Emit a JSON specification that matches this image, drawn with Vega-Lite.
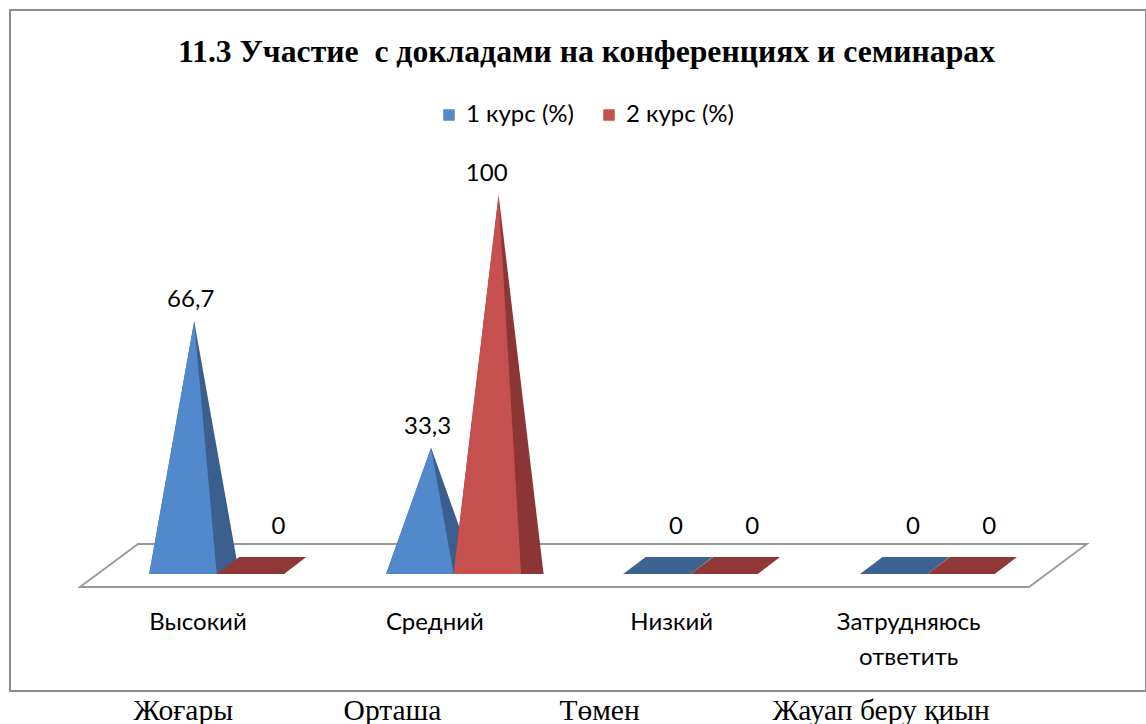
{
  "$schema": "https://vega.github.io/schema/vega-lite/v6.json",
  "width": 1136,
  "height": 681,
  "autosize": {"type": "none"},
  "padding": {"left": 10, "top": 10, "right": 0, "bottom": 33},
  "background": "white",
  "config": {
    "view": {"stroke": "#8c8c8c", "strokeWidth": 2},
    "locale": {"number": {"decimal": ",", "thousands": "\u00a0", "grouping": [3], "currency": ["", ""]}}
  },
  "title": {
    "text": "11.3 Участие\u00a0 с докладами на конференциях и семинарах",
    "anchor": "middle",
    "frame": "group",
    "font": "Liberation Serif",
    "fontSize": 31.7,
    "fontWeight": "bold",
    "color": "#000000",
    "baseline": "alphabetic",
    "offset": 0,
    "dy": 84,
    "dx": 8.5
  },
  "data": {
    "values": [
      {"cat": "Высокий", "series": "1 курс (%)", "value": 66.7},
      {"cat": "Высокий", "series": "2 курс (%)", "value": 0},
      {"cat": "Средний", "series": "1 курс (%)", "value": 33.3},
      {"cat": "Средний", "series": "2 курс (%)", "value": 100},
      {"cat": "Низкий", "series": "1 курс (%)", "value": 0},
      {"cat": "Низкий", "series": "2 курс (%)", "value": 0},
      {"cat": "Затрудняюсь ответить", "series": "1 курс (%)", "value": 0},
      {"cat": "Затрудняюсь ответить", "series": "2 курс (%)", "value": 0}
    ]
  },
  "encoding": {
    "x": {
      "field": "cat",
      "type": "nominal",
      "sort": ["Высокий", "Средний", "Низкий", "Затрудняюсь ответить"],
      "scale": {"type": "band", "paddingInner": 0, "paddingOuter": 0.3977},
      "axis": {
        "orient": "bottom",
        "offset": -80.5,
        "domain": false,
        "ticks": false,
        "grid": false,
        "labelPadding": 0,
        "labelOffset": -24.7,
        "labelAngle": 0,
        "labelFont": "Lato",
        "labelFontSize": 24,
        "labelColor": "#000000",
        "labelBaseline": "top",
        "labelLineHeight": 35,
        "labelLimit": 0,
        "labelExpr": "datum.value == 'Затрудняюсь ответить' ? ['Затрудняюсь', 'ответить'] : datum.value",
        "title": "Жоғары\u00a0\u00a0\u00a0\u00a0\u00a0\u00a0\u00a0\u00a0\u00a0\u00a0\u00a0\u00a0\u00a0\u00a0\u00a0Орташа\u00a0\u00a0\u00a0\u00a0\u00a0\u00a0\u00a0\u00a0\u00a0\u00a0\u00a0\u00a0\u00a0\u00a0\u00a0\u00a0Төмен\u00a0\u00a0\u00a0\u00a0\u00a0\u00a0\u00a0\u00a0\u00a0\u00a0\u00a0\u00a0\u00a0\u00a0\u00a0\u00a0\u00a0\u00a0Жауап беру қиын",
        "titleFont": "Liberation Serif",
        "titleFontSize": 29.5,
        "titleFontWeight": "normal",
        "titleColor": "#000000",
        "titleAlign": "left",
        "titleAnchor": "start",
        "titleBaseline": "alphabetic",
        "titleX": 123,
        "titleY": 108.5
      }
    }
  },
  "layer": [
    {
      "transform": [{"filter": "datum.cat == 'Средний' && datum.series == '1 курс (%)'"}],
      "mark": {
        "type": "point",
        "shape": "M-1,0.0427L-0.8848,-0.0427L1,-0.0427L0.8848,0.0427Z",
        "size": 1014049,
        "filled": true,
        "fill": "white",
        "stroke": "#999999",
        "strokeWidth": 1.8,
        "opacity": 1,
        "xOffset": 5.5,
        "yOffset": -8.5
      },
      "encoding": {
        "x": {"field": "cat", "type": "nominal", "sort": ["Высокий", "Средний", "Низкий", "Затрудняюсь ответить"], "bandPosition": 1},
        "y": {"datum": 0, "type": "quantitative", "scale": {"domain": [-30.87, 148.81], "nice": false, "zero": false}, "axis": null}
      }
    },
    {
      "transform": [
        {"filter": "datum.series == '1 курс (%)' && datum.value > 0"},
        {"stack": "value", "groupby": ["cat", "series"], "as": ["L", "A"]},
        {"stack": "value", "groupby": ["cat", "series"], "as": ["Rb", "Rbt"]},
        {"fold": ["L", "A", "Rb"], "as": ["corner", "h"]}
      ],
      "mark": {"type": "area", "opacity": 1, "fill": "#3b5f8d"},
      "encoding": {
        "xOffset": {"field": "corner", "type": "nominal", "scale": {"type": "point", "domain": ["L", "M", "A", "R", "Rb"], "range": [45, 135], "padding": 0}},
        "y": {"field": "h", "type": "quantitative", "stack": null, "scale": {"domain": [-30.87, 148.81], "nice": false, "zero": false}, "axis": null},
        "detail": {"field": "cat"}
      }
    },
    {
      "transform": [
        {"filter": "datum.series == '2 курс (%)' && datum.value > 0"},
        {"stack": "value", "groupby": ["cat", "series"], "as": ["L", "A"]},
        {"stack": "value", "groupby": ["cat", "series"], "as": ["Rb", "Rbt"]},
        {"fold": ["L", "A", "Rb"], "as": ["corner", "h"]}
      ],
      "mark": {"type": "area", "opacity": 1, "fill": "#8b3634"},
      "encoding": {
        "xOffset": {"field": "corner", "type": "nominal", "scale": {"type": "point", "domain": ["L", "M", "A", "R", "Rb"], "range": [112.5, 202.5], "padding": 0}},
        "y": {"field": "h", "type": "quantitative", "stack": null, "scale": {"domain": [-30.87, 148.81], "nice": false, "zero": false}, "axis": null},
        "detail": {"field": "cat"}
      }
    },
    {
      "transform": [{"filter": "datum.value == 0"}],
      "mark": {
        "type": "point",
        "shape": "M-1,0.19L0.5045,0.19L1,-0.19L-0.4955,-0.19Z",
        "size": 8028,
        "filled": true,
        "opacity": 1,
        "strokeWidth": 0,
        "yOffset": -8.5,
        "fill": {"expr": "datum.series == '1 курс (%)' ? '#3d6391' : '#8f3836'"}
      },
      "encoding": {
        "xOffset": {"field": "series", "type": "nominal", "scale": {"type": "point", "domain": ["1 курс (%)", "2 курс (%)"], "range": [89.9, 157.3], "padding": 0}},
        "y": {"datum": 0, "type": "quantitative", "scale": {"domain": [-30.87, 148.81], "nice": false, "zero": false}, "axis": null}
      }
    },
    {
      "transform": [
        {"filter": "datum.series == '1 курс (%)' && datum.value > 0"},
        {"stack": "value", "groupby": ["cat", "series"], "as": ["L", "A"]},
        {"stack": "value", "groupby": ["cat", "series"], "as": ["R", "Rt"]},
        {"fold": ["L", "A", "R"], "as": ["corner", "h"]}
      ],
      "mark": {"type": "area", "opacity": 1},
      "encoding": {
        "xOffset": {"field": "corner", "type": "nominal", "scale": {"type": "point", "domain": ["L", "M", "A", "R", "Rb"], "range": [45, 135], "padding": 0}},
        "y": {"field": "h", "type": "quantitative", "stack": null, "scale": {"domain": [-30.87, 148.81], "nice": false, "zero": false}, "axis": null},
        "detail": {"field": "cat"},
        "color": {
          "field": "series",
          "type": "nominal",
          "scale": {"domain": ["1 курс (%)", "2 курс (%)"], "range": ["#5288cc", "#c6504e"]},
          "legend": {
            "orient": "none",
            "legendX": 427,
            "legendY": 93,
            "direction": "horizontal",
            "title": null,
            "symbolType": "square",
            "symbolSize": 132,
            "symbolStrokeWidth": 0,
            "symbolOpacity": 1,
            "labelFont": "Lato",
            "labelFontSize": 24,
            "labelColor": "#000000",
            "labelOffset": 5,
            "columnPadding": 23,
            "padding": 0
          }
        }
      }
    },
    {
      "transform": [
        {"filter": "datum.series == '2 курс (%)' && datum.value > 0"},
        {"stack": "value", "groupby": ["cat", "series"], "as": ["L", "A"]},
        {"stack": "value", "groupby": ["cat", "series"], "as": ["R", "Rt"]},
        {"fold": ["L", "A", "R"], "as": ["corner", "h"]}
      ],
      "mark": {"type": "area", "opacity": 1},
      "encoding": {
        "xOffset": {"field": "corner", "type": "nominal", "scale": {"type": "point", "domain": ["L", "M", "A", "R", "Rb"], "range": [112.5, 202.5], "padding": 0}},
        "y": {"field": "h", "type": "quantitative", "stack": null, "scale": {"domain": [-30.87, 148.81], "nice": false, "zero": false}, "axis": null},
        "detail": {"field": "cat"},
        "color": {"field": "series", "type": "nominal", "scale": {"domain": ["1 курс (%)", "2 курс (%)"], "range": ["#5288cc", "#c6504e"]}}
      }
    },
    {
      "mark": {
        "type": "text",
        "font": "Lato",
        "fontSize": 24,
        "color": "#000000",
        "baseline": "middle",
        "dx": {"expr": "datum.value == 0 ? (datum.series == '1 курс (%)' ? 11.5 : 28.7) : 0"},
        "dy": {"expr": "datum.value == 0 ? -47 : -21"}
      },
      "encoding": {
        "xOffset": {"field": "series", "type": "nominal", "scale": {"type": "point", "domain": ["1 курс (%)", "2 курс (%)"], "range": [86.5, 145.6], "padding": 0}},
        "y": {"field": "value", "type": "quantitative", "scale": {"domain": [-30.87, 148.81], "nice": false, "zero": false}, "axis": null},
        "text": {"field": "value", "type": "quantitative", "format": ".3~g"}
      }
    }
  ],
  "resolve": {"scale": {"xOffset": "independent"}}
}
